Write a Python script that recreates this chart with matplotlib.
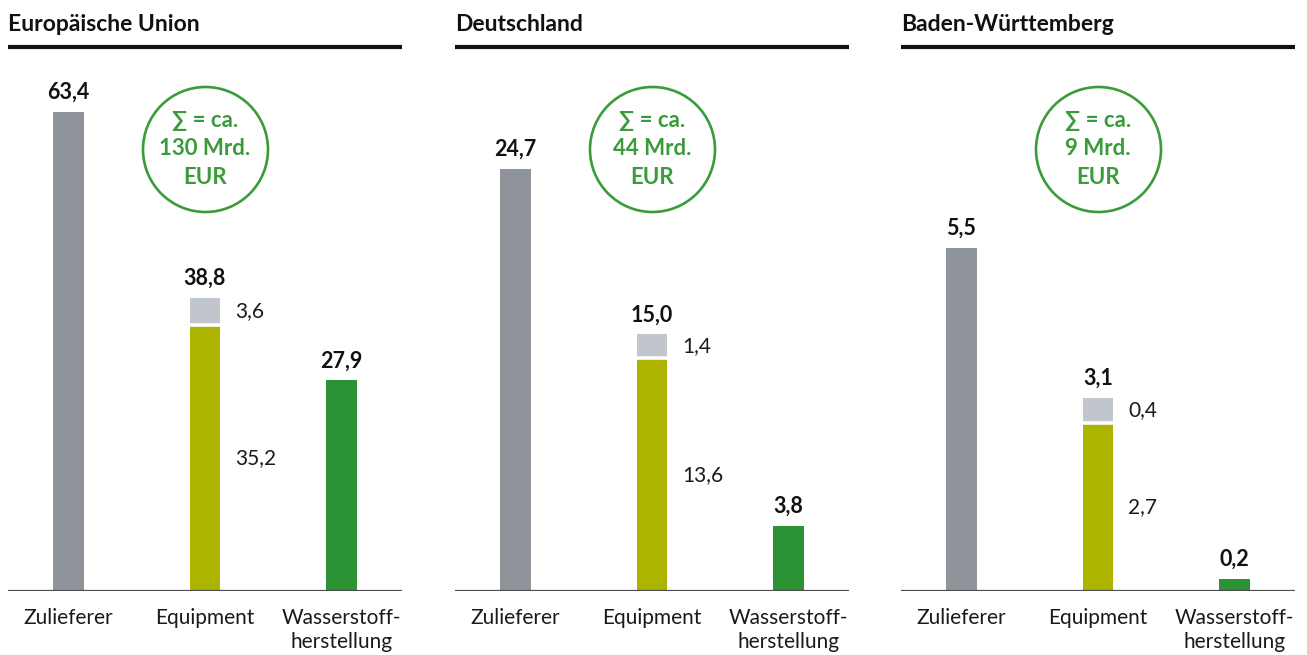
import matplotlib.pyplot as plt
import matplotlib.transforms as mtransforms

plt.rcParams['font.family'] = ['Lato', 'DejaVu Sans']

# Werte in Mrd. EUR
regionen = ["Europäische Union", "Deutschland", "Baden-Württemberg"]
kategorien = ["Zulieferer", "Equipment", "Wasserstoff-\nherstellung"]
zulieferer = [63.4, 24.7, 5.5]
equipment_basis = [35.2, 13.6, 2.7]
equipment_zusatz = [3.6, 1.4, 0.4]
herstellung = [27.9, 3.8, 0.2]
summen = ["130", "44", "9"]
y_max = [70.3, 31.05, 8.51]

c_grau = "#8f949b"
c_hellgrau = "#c1c5cc"
c_oliv = "#adb400"
c_gruen = "#2b9334"
c_kreis = "#3a9b3a"

W, H = 1307, 655
fig = plt.figure(figsize=(W / 100, H / 100), dpi=100)

links_px = [8, 455, 901]
breite_px = 394
unten_px, oben_px = 591, 60
bw = 0.227

def fmt(v):
    return f"{v:.1f}".replace(".", ",")

for i, reg in enumerate(regionen):
    ax = fig.add_axes([links_px[i] / W, (H - unten_px) / H,
                       breite_px / W, (unten_px - oben_px) / H])
    ax.set_xlim(-0.443, 2.443)
    ax.set_ylim(0, y_max[i])
    for s in ax.spines.values():
        s.set_visible(False)
    ax.set_yticks([])
    ax.set_xticks([0, 1, 2])
    ax.set_xticklabels(kategorien, fontsize=15, color="#1a1a1a", linespacing=1.25)
    ax.tick_params(axis="x", length=0, pad=12)
    ax.axhline(0, color="#4d4d4d", lw=1.6, zorder=3)

    eq_total = round(equipment_basis[i] + equipment_zusatz[i], 1)
    ax.bar(0, zulieferer[i], width=bw, color=c_grau)
    ax.bar(1, equipment_basis[i], width=bw, color=c_oliv)
    ax.bar(1, equipment_zusatz[i], bottom=equipment_basis[i], width=bw, color=c_hellgrau)
    ax.hlines(equipment_basis[i], 1 - bw / 2, 1 + bw / 2, color="white", lw=2.6, zorder=3)
    ax.bar(2, herstellung[i], width=bw, color=c_gruen)

    # Werte über den Balken
    off = y_max[i] * 0.017
    for x, v in zip([0, 1, 2], [zulieferer[i], eq_total, herstellung[i]]):
        ax.text(x, v + off, fmt(v), ha="center", va="bottom",
                fontsize=15.5, fontweight="bold", color="#111111")

    # Teilwerte rechts neben Equipment
    ax.text(1.22, equipment_basis[i] / 2, fmt(equipment_basis[i]),
            ha="left", va="center", fontsize=15, color="#1a1a1a")
    ax.text(1.22, equipment_basis[i] + equipment_zusatz[i] / 2, fmt(equipment_zusatz[i]),
            ha="left", va="center", fontsize=15, color="#1a1a1a")

    # Summenkreis
    trans = mtransforms.blended_transform_factory(ax.transData, ax.transAxes)
    ax.plot([1], [0.8324], "o", ms=90, mfc="none", mec=c_kreis, mew=1.9,
            transform=trans, clip_on=False)
    ax.text(1, 0.8324, f"∑ = ca.\n{summen[i]} Mrd.\nEUR", transform=trans,
            ha="center", va="center", fontsize=16, fontweight="bold",
            color=c_kreis, linespacing=1.42)

    # Titel mit Linie
    ax.plot([0, 1], [1.0245, 1.0245], color="#111111", lw=3, solid_capstyle="butt",
            transform=ax.transAxes, clip_on=False)
    ax.text(0, 1.055, reg, transform=ax.transAxes, ha="left", va="baseline",
            fontsize=16.5, fontweight="bold", color="#111111")

fig.savefig("out.png", dpi=100)
